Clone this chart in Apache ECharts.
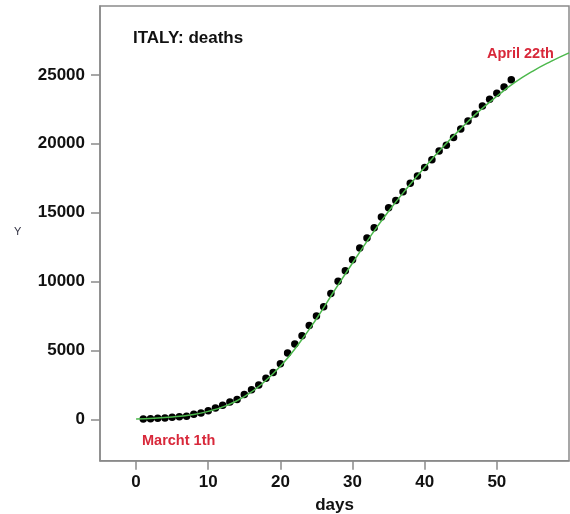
<!DOCTYPE html>
<html>
<head>
<meta charset="utf-8">
<script src="https://cdn.jsdelivr.net/npm/echarts@6/dist/echarts.min.js"></script>
<style>
html,body{margin:0;padding:0;background:#fff;}
#chart{width:570px;height:514px;}
</style>
</head>
<body>
<div id="chart"></div>
<script>
// Observed data (days since start, cumulative deaths)
var days = [1,2,3,4,5,6,7,8,9,10,11,12,13,14,15,16,17,18,19,20,21,22,23,24,25,26,27,28,29,30,31,32,33,34,35,36,37,38,39,40,41,42,43,44,45,46,47,48,49,50,51,52];
var deaths = [34,52,79,107,148,197,233,366,463,631,827,1016,1266,1441,1809,2158,2503,2978,3405,4032,4825,5476,6077,6820,7503,8165,9134,10023,10779,11591,12428,13155,13915,14681,15362,15887,16523,17127,17669,18279,18849,19468,19899,20465,21067,21645,22170,22745,23227,23660,24114,24648];
// Fitted curve
var fitDays = [0,2.5,5,7.5,10,12.5,15,17.5,20,22.5,25,27.5,30,32.5,35,37.5,40,42.5,45,47.5,50,52.5,55,57.5,60];
var fitValues = [30,80,170,320,580,1000,1650,2600,3850,5450,7300,9350,11350,13300,15100,16750,18300,19750,21100,22350,23450,24450,25280,25980,26600];
var xTicks = [0,10,20,30,40,50];
var yTicks = [0,5000,10000,15000,20000,25000];

var axisGrey = '#8a8a8a';
var chart = echarts.init(document.getElementById('chart'));
var pts = days.map(function(d,i){return [d, deaths[i]];});
var fit = fitDays.map(function(d,i){return [d, fitValues[i]];});

chart.setOption({
  animation: false,
  backgroundColor: '#fff',
  grid: {left: 100, top: 6, width: 469, height: 454.7, show: true, borderColor: axisGrey, borderWidth: 1.5, containLabel: false, outerBoundsMode: 'none'},
  xAxis: {
    type: 'value', min: -5, max: 60, position: 'bottom',
    name: 'days', nameLocation: 'middle', nameGap: 36,
    nameTextStyle: {fontFamily: 'Liberation Sans', fontWeight: 'bold', fontSize: 17, color: '#111'},
    axisLine: {show: true, onZero: false, lineStyle: {color: axisGrey, width: 1.5}},
    axisTick: {show: true, length: 9, customValues: xTicks, lineStyle: {color: axisGrey, width: 1.5}},
    axisLabel: {customValues: xTicks, margin: 13, formatter: function(v){return String(v);}, fontFamily: 'Liberation Sans', fontWeight: 'bold', fontSize: 17, color: '#111'},
    splitLine: {show: false}
  },
  yAxis: {
    type: 'value', min: -3000, max: 30000, position: 'left',
    axisLine: {show: true, onZero: false, lineStyle: {color: axisGrey, width: 1.5}},
    axisTick: {show: true, length: 9, customValues: yTicks, lineStyle: {color: axisGrey, width: 1.5}},
    axisLabel: {customValues: yTicks, margin: 15, formatter: function(v){return String(v);}, fontFamily: 'Liberation Sans', fontWeight: 'bold', fontSize: 17, color: '#111'},
    splitLine: {show: false}
  },
  graphic: [
    {type: 'text', left: 133, top: 30, style: {text: 'ITALY: deaths', fontFamily: 'Liberation Sans', fontWeight: 'bold', fontSize: 17, fill: '#111'}},
    {type: 'text', left: 487, top: 46, style: {text: 'April 22th', fontFamily: 'Liberation Sans', fontWeight: 'bold', fontSize: 14.5, fill: '#d8283a'}},
    {type: 'text', left: 142, top: 433, style: {text: 'Marcht 1th', fontFamily: 'Liberation Sans', fontWeight: 'bold', fontSize: 14.5, fill: '#d8283a'}},
    {type: 'text', left: 14, top: 226, style: {text: 'Y', fontFamily: 'Liberation Sans', fontSize: 11, fill: '#334'}}
  ],
  series: [
    {type: 'scatter', data: pts, symbol: 'circle', symbolSize: 7.5, itemStyle: {color: '#000', opacity: 1}, z: 2},
    {type: 'line', data: fit, smooth: true, showSymbol: false, symbol: 'none', lineStyle: {color: '#4cb84c', width: 1.5}, z: 3}
  ]
});
</script>
</body>
</html>
